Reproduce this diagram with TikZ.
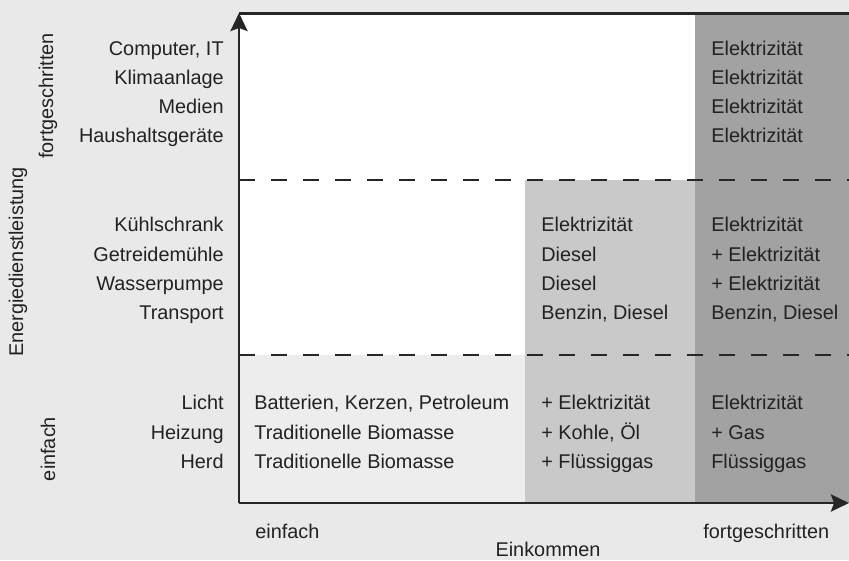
\documentclass[tikz,border=0pt]{standalone}
\usepackage{fontspec}
\setmainfont{Liberation Sans}
\usepackage{xcolor}
\usetikzlibrary{arrows.meta}
\definecolor{bggray}{HTML}{E9E9E9}
\definecolor{lightband}{HTML}{EDEDED}
\definecolor{midcol}{HTML}{C9C9C9}
\definecolor{darkcol}{HTML}{A2A2A2}
\definecolor{txtgray}{HTML}{222222}
\tikzset{
  lbl/.style={anchor=base east,inner sep=0pt,text=txtgray,font=\fontsize{11.3}{13}\selectfont},
  cell/.style={anchor=base west,inner sep=0pt,text=txtgray,font=\fontsize{11.3}{13}\selectfont},
  sep/.style={line width=1.1pt,draw=black!85,dash pattern=on 0.32cm off 0.32cm},
  axis/.style={line width=1.7pt,draw=black!85}
}
\begin{document}
\begin{tikzpicture}
\useasboundingbox (0,0) rectangle (16.98,11.2);
\fill[bggray] (0,0) rectangle (16.98,11.2);

\fill[white] (4.78,1.14) rectangle (16.98,10.92);
\fill[lightband] (4.78,1.14) rectangle (10.5,4.1);
\fill[midcol] (10.5,1.14) rectangle (13.9,7.6);
\fill[darkcol] (13.9,1.14) rectangle (16.98,10.92);

\coordinate (o) at (4.78,1.14);
\coordinate (ytop) at (4.78,10.92);
\coordinate (xend) at (16.98,1.14);
\coordinate (rtop) at (16.98,10.92);
\coordinate (d1l) at (4.78,7.6);
\coordinate (d1r) at (16.98,7.6);
\coordinate (d2l) at (4.78,4.1);
\coordinate (d2r) at (16.98,4.1);

\draw[sep] (d1l) -- (d1r);
\draw[sep] (d2l) -- (d2r);
\draw[axis] (ytop) -- (rtop);
\draw[axis,-{Stealth[length=0.36cm,width=0.34cm,inset=0.06cm]}] (o) -- ([yshift=0.02cm]ytop);
\draw[axis,-{Stealth[length=0.36cm,width=0.34cm,inset=0.06cm]}] (o) -- (xend);

\node[lbl] (computer) at (4.48,10.08) {Computer, IT};
\node[lbl] (klima) at (4.48,9.5) {Klimaanlage};
\node[lbl] (medien) at (4.48,8.92) {Medien};
\node[lbl] (haushalt) at (4.48,8.34) {Haushaltsgeräte};

\node[lbl] (kuehl) at (4.48,6.56) {Kühlschrank};
\node[lbl] (muehle) at (4.48,5.97) {Getreidemühle};
\node[lbl] (pumpe) at (4.48,5.38) {Wasserpumpe};
\node[lbl] (transport) at (4.48,4.8) {Transport};

\node[lbl] (licht) at (4.48,3.02) {Licht};
\node[lbl] (heizung) at (4.48,2.42) {Heizung};
\node[lbl] (herd) at (4.48,1.84) {Herd};

\node[cell] (a1) at (5.08,3.02) {Batterien, Kerzen, Petroleum};
\node[cell] (a2) at (5.08,2.42) {Traditionelle Biomasse};
\node[cell] (a3) at (5.08,1.84) {Traditionelle Biomasse};

\node[cell] (b1) at (10.82,6.56) {Elektrizität};
\node[cell] (b2) at (10.82,5.97) {Diesel};
\node[cell] (b3) at (10.82,5.38) {Diesel};
\node[cell] (b4) at (10.82,4.8) {Benzin, Diesel};
\node[cell] (b5) at (10.82,3.02) {+ Elektrizität};
\node[cell] (b6) at (10.82,2.42) {+ Kohle, Öl};
\node[cell] (b7) at (10.82,1.84) {+ Flüssiggas};

\node[cell] (c1) at (14.22,10.08) {Elektrizität};
\node[cell] (c2) at (14.22,9.5) {Elektrizität};
\node[cell] (c3) at (14.22,8.92) {Elektrizität};
\node[cell] (c4) at (14.22,8.34) {Elektrizität};
\node[cell] (c5) at (14.22,6.56) {Elektrizität};
\node[cell] (c6) at (14.22,5.97) {+ Elektrizität};
\node[cell] (c7) at (14.22,5.38) {+ Elektrizität};
\node[cell] (c8) at (14.22,4.8) {Benzin, Diesel};
\node[cell] (c9) at (14.22,3.02) {Elektrizität};
\node[cell] (c10) at (14.22,2.42) {+ Gas};
\node[cell] (c11) at (14.22,1.84) {Flüssiggas};

\node[cell] (xlow) at (5.1,0.44) {einfach};
\node[cell] (xhigh) at (14.06,0.44) {fortgeschritten};
\node[lbl,anchor=base] (xtitle) at (10.96,0.07) {Einkommen};

\node[lbl,anchor=center,rotate=90] (yhigh) at (0.96,9.28) {fortgeschritten};
\node[lbl,anchor=center,rotate=90] (ylow) at (0.96,2.22) {einfach};
\node[lbl,anchor=center,rotate=90] (ytitle) at (0.36,5.96) {Energiedienstleistung};
\end{tikzpicture}
\end{document}
